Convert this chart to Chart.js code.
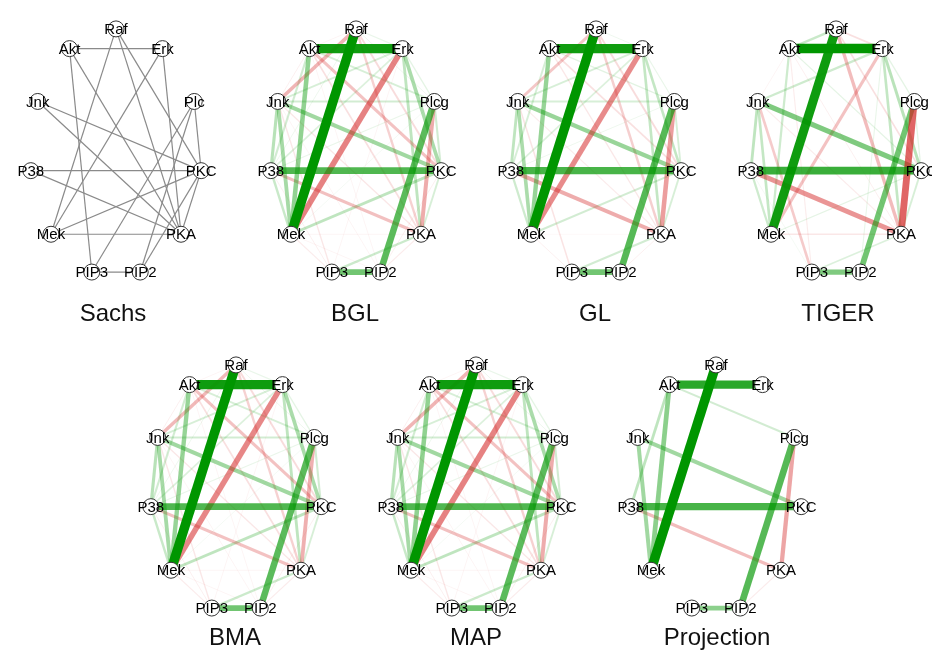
<!DOCTYPE html>
<html>
<head>
<meta charset="utf-8">
<script src="https://cdn.jsdelivr.net/npm/chart.js@4.4.1/dist/chart.umd.min.js"></script>
<style>
  body { margin: 0; width: 932px; height: 652px; overflow: hidden; background: #fff; position: relative;
         font-family: 'Liberation Sans', Arial, sans-serif; }
  canvas { position: absolute; }
  .title { position: absolute; font-size: 24px; color: #111; transform: translate(-50%, -50%); white-space: nowrap; }
</style>
</head>
<body>
<script>
// node order around the circle, clockwise from the top
const nodeNames = ['Raf', 'Erk', 'Plcg', 'PKC', 'PKA', 'PIP2', 'PIP3', 'Mek', 'P38', 'Jnk', 'Akt'];
const sachsLabels = ['Raf', 'Erk', 'Plc', 'PKC', 'PKA', 'PIP2', 'PIP3', 'Mek', 'P38', 'Jnk', 'Akt'];

const titles = ['Sachs', 'BGL', 'GL', 'TIGER', 'BMA', 'MAP', 'Projection'];

// known consensus network (unweighted)
const sachsEdges = [
  ['Raf', 'Mek'], ['Erk', 'Mek'], ['Plcg', 'PIP2'], ['Plcg', 'PIP3'], ['PIP3', 'PIP2'],
  ['PIP2', 'PKC'], ['Plcg', 'PKC'], ['PIP3', 'Akt'], ['PKC', 'Raf'], ['PKC', 'Mek'],
  ['PKC', 'Jnk'], ['PKC', 'P38'], ['PKC', 'PKA'], ['PKA', 'Raf'], ['PKA', 'Mek'],
  ['PKA', 'Erk'], ['PKA', 'Akt'], ['PKA', 'Jnk'], ['PKA', 'P38'], ['Erk', 'Akt']
];

// estimated partial correlations (sign = colour, size = width)
const bglEdges = [
  ['Raf', 'Mek', 1.0], ['Akt', 'Erk', 0.95], ['P38', 'PKC', 0.72], ['Plcg', 'PIP2', 0.68],
  ['PIP3', 'PIP2', 0.6], ['Erk', 'Mek', -0.6], ['Akt', 'Mek', 0.48], ['Jnk', 'Mek', 0.4],
  ['Jnk', 'PKC', 0.42], ['Erk', 'PKC', 0.38], ['Plcg', 'PKA', -0.42], ['Raf', 'Jnk', -0.38],
  ['Akt', 'PKC', -0.32], ['P38', 'PKA', -0.33], ['Raf', 'PKA', -0.25], ['Jnk', 'P38', 0.33],
  ['Erk', 'PKA', 0.3], ['Mek', 'PKC', 0.3], ['PIP3', 'PKA', 0.25], ['Jnk', 'Plcg', 0.22],
  ['Akt', 'Plcg', 0.2], ['Erk', 'Jnk', 0.2], ['Erk', 'P38', 0.18], ['Akt', 'P38', 0.22],
  ['P38', 'Mek', 0.26], ['Plcg', 'PKC', 0.22], ['PKC', 'PKA', 0.2], ['Raf', 'PKC', -0.2],
  ['Akt', 'PKA', -0.18], ['Raf', 'Erk', 0.12], ['Raf', 'Plcg', 0.1], ['Raf', 'Akt', -0.08],
  ['Jnk', 'PIP3', -0.14], ['Mek', 'PIP3', -0.12], ['Jnk', 'PKA', -0.14], ['P38', 'PIP3', -0.1],
  ['PIP2', 'PKA', -0.12], ['PIP2', 'PKC', -0.1], ['Mek', 'PKA', -0.08], ['P38', 'Plcg', 0.12],
  ['Akt', 'Jnk', -0.1], ['Mek', 'PIP2', -0.08], ['Erk', 'PIP3', -0.08], ['Raf', 'P38', 0.1],
  ['Akt', 'PIP2', -0.08], ['Jnk', 'PIP2', -0.08], ['Mek', 'Plcg', 0.08], ['Erk', 'Plcg', 0.14]
];

const glEdges = [
  ['Raf', 'Mek', 1.0], ['Akt', 'Erk', 0.95], ['P38', 'PKC', 0.75], ['Plcg', 'PIP2', 0.7],
  ['PIP3', 'PIP2', 0.6], ['Erk', 'Mek', -0.56], ['Akt', 'Mek', 0.46], ['Jnk', 'Mek', 0.38],
  ['Jnk', 'PKC', 0.45], ['Erk', 'PKC', 0.28], ['Plcg', 'PKA', -0.48], ['Raf', 'Jnk', -0.3],
  ['P38', 'PKA', -0.42], ['Raf', 'PKA', -0.26], ['Jnk', 'P38', 0.3], ['Erk', 'PKA', 0.28],
  ['Mek', 'PKC', 0.22], ['PIP3', 'PKA', 0.22], ['Jnk', 'Plcg', 0.2], ['Akt', 'Plcg', 0.15],
  ['Erk', 'Jnk', 0.2], ['Erk', 'P38', 0.18], ['Akt', 'P38', 0.2], ['P38', 'Mek', 0.24],
  ['Plcg', 'PKC', 0.2], ['PKC', 'PKA', 0.2], ['Raf', 'PKC', -0.2], ['Akt', 'PKC', -0.18],
  ['Akt', 'PKA', -0.14], ['Raf', 'Erk', 0.1], ['Jnk', 'PIP3', -0.16], ['Mek', 'PIP3', -0.1],
  ['Jnk', 'PKA', -0.12], ['PIP2', 'PKA', -0.1], ['P38', 'Plcg', 0.1], ['Mek', 'PKA', -0.06],
  ['Erk', 'Plcg', 0.12]
];

const tigerEdges = [
  ['Raf', 'Mek', 0.95], ['Akt', 'Erk', 1.0], ['P38', 'PKC', 0.8], ['Plcg', 'PIP2', 0.6],
  ['PIP3', 'PIP2', 0.55], ['Plcg', 'PKA', -0.72], ['P38', 'PKA', -0.52], ['Jnk', 'PKC', 0.55],
  ['Erk', 'Mek', -0.32], ['Raf', 'PKA', -0.35], ['Jnk', 'P38', 0.3], ['Jnk', 'Mek', 0.28],
  ['P38', 'Mek', 0.24], ['Akt', 'Mek', 0.24], ['Erk', 'PKC', 0.32], ['Erk', 'PKA', 0.28],
  ['Erk', 'Plcg', 0.14], ['Jnk', 'PIP3', -0.28], ['Raf', 'Akt', 0.26], ['Raf', 'Erk', -0.18],
  ['Erk', 'Jnk', 0.24], ['Raf', 'PKC', -0.18], ['Akt', 'PKC', 0.14], ['Mek', 'PKA', -0.14],
  ['Mek', 'PKC', 0.14], ['PIP3', 'PKA', 0.18], ['Akt', 'PIP3', -0.12], ['Jnk', 'PKA', -0.12],
  ['PKC', 'PKA', 0.2], ['Plcg', 'PKC', 0.14], ['P38', 'PIP3', 0.08], ['Akt', 'Jnk', -0.08],
  ['Erk', 'PIP2', 0.12], ['Akt', 'PKA', -0.1]
];

const bmaEdges = [
  ['Raf', 'Mek', 1.0], ['Akt', 'Erk', 0.95], ['P38', 'PKC', 0.72], ['Plcg', 'PIP2', 0.68],
  ['PIP3', 'PIP2', 0.6], ['Erk', 'Mek', -0.58], ['Akt', 'Mek', 0.46], ['Jnk', 'Mek', 0.4],
  ['Jnk', 'PKC', 0.42], ['Erk', 'PKC', 0.38], ['Plcg', 'PKA', -0.4], ['Raf', 'Jnk', -0.36],
  ['Akt', 'PKC', -0.32], ['P38', 'PKA', -0.32], ['Raf', 'PKA', -0.25], ['Jnk', 'P38', 0.33],
  ['Erk', 'PKA', 0.3], ['Mek', 'PKC', 0.3], ['PIP3', 'PKA', 0.25], ['Jnk', 'Plcg', 0.22],
  ['Akt', 'Plcg', 0.2], ['Erk', 'Jnk', 0.2], ['Erk', 'P38', 0.18], ['Akt', 'P38', 0.22],
  ['P38', 'Mek', 0.26], ['Plcg', 'PKC', 0.22], ['PKC', 'PKA', 0.2], ['Raf', 'PKC', -0.2],
  ['Akt', 'PKA', -0.18], ['Raf', 'Erk', 0.12], ['Raf', 'Plcg', 0.1], ['Raf', 'Akt', -0.08],
  ['Jnk', 'PIP3', -0.14], ['Mek', 'PIP3', -0.12], ['Jnk', 'PKA', -0.14], ['P38', 'PIP3', -0.1],
  ['PIP2', 'PKA', -0.12], ['PIP2', 'PKC', -0.1], ['Mek', 'PKA', -0.08], ['P38', 'Plcg', 0.12],
  ['Akt', 'Jnk', -0.1], ['Mek', 'PIP2', -0.08], ['Erk', 'PIP3', -0.08], ['Raf', 'P38', 0.1],
  ['Akt', 'PIP2', -0.08], ['Jnk', 'PIP2', -0.08], ['Mek', 'Plcg', 0.08], ['Erk', 'Plcg', 0.14]
];

const mapEdges = [
  ['Raf', 'Mek', 1.0], ['Akt', 'Erk', 0.95], ['P38', 'PKC', 0.72], ['Plcg', 'PIP2', 0.68],
  ['PIP3', 'PIP2', 0.6], ['Erk', 'Mek', -0.6], ['Akt', 'Mek', 0.48], ['Jnk', 'Mek', 0.4],
  ['Jnk', 'PKC', 0.42], ['Erk', 'PKC', 0.38], ['Plcg', 'PKA', -0.42], ['Raf', 'Jnk', -0.38],
  ['Akt', 'PKC', -0.32], ['P38', 'PKA', -0.33], ['Raf', 'PKA', -0.25], ['Jnk', 'P38', 0.33],
  ['Erk', 'PKA', 0.3], ['Mek', 'PKC', 0.3], ['PIP3', 'PKA', 0.25], ['Jnk', 'Plcg', 0.22],
  ['Akt', 'Plcg', 0.2], ['Erk', 'Jnk', 0.2], ['Erk', 'P38', 0.18], ['Akt', 'P38', 0.22],
  ['P38', 'Mek', 0.26], ['Plcg', 'PKC', 0.22], ['PKC', 'PKA', 0.2], ['Raf', 'PKC', -0.2],
  ['Akt', 'PKA', -0.18], ['Raf', 'Erk', 0.12], ['Raf', 'Plcg', 0.1], ['Raf', 'Akt', -0.08],
  ['Jnk', 'PIP3', -0.14], ['Mek', 'PIP3', -0.12], ['Jnk', 'PKA', -0.14], ['P38', 'PIP3', -0.1],
  ['PIP2', 'PKA', -0.12], ['PIP2', 'PKC', -0.1], ['Mek', 'PKA', -0.08], ['P38', 'Plcg', 0.12],
  ['Akt', 'Jnk', -0.1], ['Mek', 'PIP2', -0.08], ['Erk', 'PIP3', -0.08], ['Raf', 'P38', 0.1],
  ['Akt', 'PIP2', -0.08], ['Jnk', 'PIP2', -0.08], ['Mek', 'Plcg', 0.08], ['Erk', 'Plcg', 0.14]
];

const projectionEdges = [
  ['Raf', 'Mek', 1.0], ['Akt', 'Erk', 0.85], ['P38', 'PKC', 0.75], ['Plcg', 'PIP2', 0.7],
  ['PIP3', 'PIP2', 0.5], ['Akt', 'Mek', 0.5], ['Jnk', 'Mek', 0.42], ['Jnk', 'PKC', 0.42],
  ['Akt', 'P38', 0.3], ['Akt', 'Plcg', 0.22], ['P38', 'PKA', -0.35], ['Plcg', 'PKA', -0.45],
  ['PKA', 'PIP2', -0.12]
];

// layout of the 7 panels (centre of each circle, in page pixels)
const panelCenters = [[116, 153], [356, 153], [596, 153], [836, 153], [236, 489], [476, 489], [716, 489]];
const titleCenters = [[113, 313], [355, 313], [595, 313], [838, 313], [235, 637], [476, 637], [717, 637]];
const panelEdges = [null, bglEdges, glEdges, tigerEdges, bmaEdges, mapEdges, projectionEdges];

const RX = 93, RY = 132, CW = 240, CH = 300;

function nodePos(name) {
  const i = nodeNames.indexOf(name);
  const a = Math.PI / 2 - i * 2 * Math.PI / 11;
  return { x: Math.cos(a), y: Math.sin(a) };
}

function edgeColor(w) {
  const a = Math.min(1, Math.pow(Math.abs(w), 1.15));
  return w > 0 ? `rgba(0,150,0,${a})` : `rgba(210,30,30,${a})`;
}

const labelPlugin = {
  id: 'nodeLabels',
  afterDatasetsDraw(chart) {
    const ctx = chart.ctx;
    const xs = chart.scales.x, ys = chart.scales.y;
    const labels = chart.options.plugins.nodeLabels.labels;
    ctx.save();
    ctx.font = "15px 'Liberation Sans', Arial, sans-serif";
    ctx.fillStyle = '#000';
    ctx.textAlign = 'center';
    ctx.textBaseline = 'middle';
    nodeNames.forEach((n, i) => {
      const p = nodePos(n);
      ctx.fillText(labels[i], xs.getPixelForValue(p.x), ys.getPixelForValue(p.y) + 1);
    });
    ctx.restore();
  }
};

function makePanel(k) {
  const [cx, cy] = panelCenters[k];
  const canvas = document.createElement('canvas');
  canvas.width = CW;
  canvas.height = CH;
  canvas.style.left = (cx - CW / 2) + 'px';
  canvas.style.top = (cy - CH / 2) + 'px';
  document.body.appendChild(canvas);

  const datasets = [{
    data: nodeNames.map(nodePos),
    pointRadius: 8,
    pointBackgroundColor: '#fff',
    pointBorderColor: '#333',
    pointBorderWidth: 1,
    showLine: false,
    order: -1,
    clip: false
  }];

  if (k === 0) {
    sachsEdges.forEach(([a, b]) => {
      datasets.push({
        data: [nodePos(a), nodePos(b)],
        showLine: true, pointRadius: 0,
        borderColor: '#8a8a8a', borderWidth: 1.2,
        order: 1, clip: false
      });
    });
  } else {
    panelEdges[k].forEach(([a, b, w]) => {
      datasets.push({
        data: [nodePos(a), nodePos(b)],
        showLine: true, pointRadius: 0,
        borderColor: edgeColor(w),
        borderWidth: Math.max(0.8, Math.abs(w) * 9.5),
        borderCapStyle: 'butt',
        order: 2 - Math.abs(w),
        clip: false
      });
    });
  }

  new Chart(canvas, {
    type: 'scatter',
    data: { datasets },
    options: {
      responsive: false,
      animation: false,
      layout: { padding: 0 },
      scales: {
        x: { display: false, min: -CW / 2 / RX, max: CW / 2 / RX },
        y: { display: false, min: -CH / 2 / RY, max: CH / 2 / RY }
      },
      plugins: {
        legend: { display: false },
        tooltip: { enabled: false },
        nodeLabels: { labels: k === 0 ? sachsLabels : nodeNames }
      }
    },
    plugins: [labelPlugin]
  });

  const t = document.createElement('div');
  t.className = 'title';
  t.textContent = titles[k];
  t.style.left = titleCenters[k][0] + 'px';
  t.style.top = titleCenters[k][1] + 'px';
  document.body.appendChild(t);
}

for (let k = 0; k < 7; k++) makePanel(k);
</script>
</body>
</html>
